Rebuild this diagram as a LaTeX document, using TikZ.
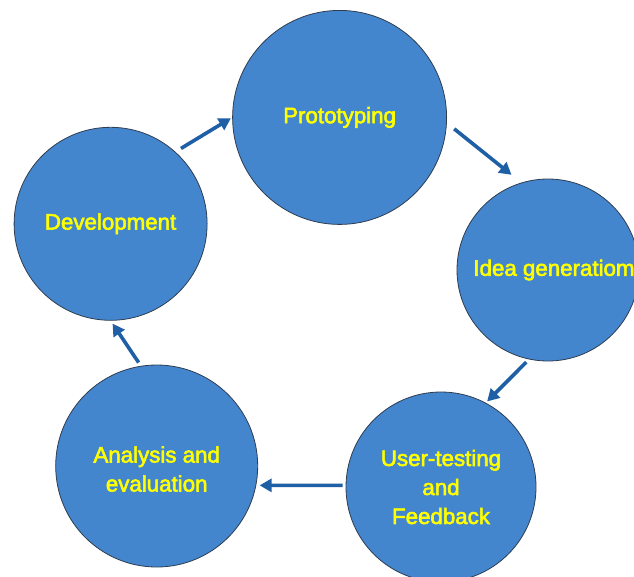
\documentclass[tikz,border=0pt]{standalone}
\usepackage{fontspec}
\setmainfont{Liberation Sans}
\newfontfamily\stagefont[FakeBold=2.5]{Liberation Sans}
\usetikzlibrary{arrows.meta}
\definecolor{stagefill}{HTML}{4486CE}
\definecolor{stageline}{HTML}{2E3D50}
\definecolor{arrowblue}{HTML}{1F5FA6}
\definecolor{labelyellow}{HTML}{FFFF00}
\tikzset{
  stagetext/.style={align=center, text=labelyellow,
    font=\stagefont\fontsize{22.3}{29}\selectfont},
  stage/.style={circle, draw=stageline, line width=0.8pt, fill=stagefill,
    inner sep=0pt, stagetext},
  flow/.style={draw=arrowblue, line width=3.6pt,
    -{Triangle[length=12pt,width=13pt]}},
}
\begin{document}
\begin{tikzpicture}[x=1pt,y=-1pt]
  \clip (0,0) rectangle (634,576);
  \fill[white] (0,0) rectangle (634,576);

  % the five stages of the cycle
  \node[stage, minimum size=214pt] (proto) at (339.6,117.4) {Prototyping};
  \node[stage, minimum size=193pt] (dev)   at (110.6,223.8) {Development};
  \node[stage, minimum size=182pt,
        label={[stagetext, xshift=6pt]center:Idea generatiom}] (idea) at (548,270) {};
  \node[stage, minimum size=190pt] (user)  at (441,487)
    {User-testing\\and\\Feedback};
  \node[stage, minimum size=202pt,
        label={[stagetext, yshift=-3pt]center:Analysis and\\evaluation}] (anal) at (156.7,466) {};

  % arrows running round the cycle
  \draw[flow, shorten <=6.5pt, shorten >=1.5pt] (dev.48.1)    -- (proto.180.9);
  \draw[flow, shorten <=9.4pt, shorten >=12.5pt] (proto.-3.8) -- (idea.107.9);
  \draw[flow, shorten <=3.8pt, shorten >=1.9pt] (idea.258.9)  -- (user.62.4);
  \draw[flow, shorten <=3.1pt, shorten >=3.4pt] (user.179.2)  -- (anal.-11.2);
  \draw[flow, shorten <=4pt,   shorten >=3.5pt] (anal.99.6)   -- (dev.270.95);
\end{tikzpicture}
\end{document}
